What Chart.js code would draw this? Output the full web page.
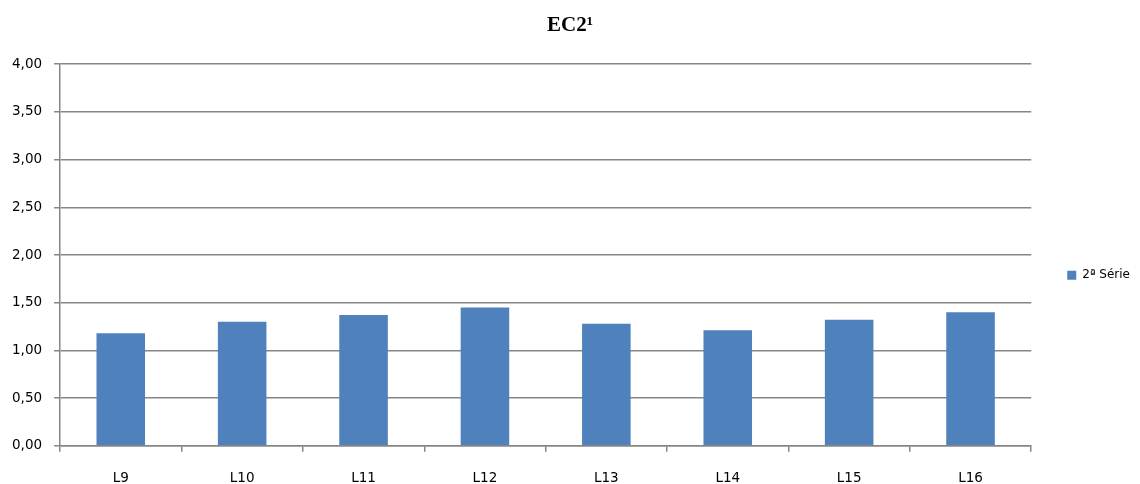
<!DOCTYPE html>
<html>
<head>
<meta charset="utf-8">
<script src="https://cdn.jsdelivr.net/npm/chart.js@4/dist/chart.umd.min.js"></script>
<style>
  html, body { margin: 0; padding: 0; background: #fff; }
  #wrap { width: 1140px; height: 484px; }
</style>
</head>
<body>
<div id="wrap"><canvas id="ec2Chart"></canvas></div>
<script>
// data
var categories = ["L9", "L10", "L11", "L12", "L13", "L14", "L15", "L16"];
var serie2 = [1.18, 1.30, 1.37, 1.45, 1.28, 1.21, 1.32, 1.40];
var serieLabel = "2ª Série";
var chartTitle = "EC2¹";
var yMin = 0, yMax = 4, yStep = 0.5;

var gridGray = "#868686";
var barBlue = "#4F81BD";
var tickFont = { family: "'DejaVu Sans', sans-serif", size: 13.5 };

const ctx = document.getElementById("ec2Chart").getContext("2d");
new Chart(ctx, {
    type: "bar",
    data: {
        labels: categories,
        datasets: [
            {
                label: serieLabel,
                data: serie2,
                backgroundColor: barBlue,
                borderWidth: 0,
                barPercentage: 1,
                categoryPercentage: 0.4
            }
        ]
    },
    options: {
        responsive: true,
        maintainAspectRatio: false,
        animation: false,
        layout: {
            // ticks padding is counted twice by chart.js, pull the x axis back down
            padding: { left: 0, right: 0, top: 0, bottom: -22 }
        },
        plugins: {
            tooltip: { enabled: false },
            title: {
                display: true,
                text: chartTitle,
                color: "#000",
                font: { family: "'Liberation Serif', 'Times New Roman', serif", size: 21, weight: "bold" },
                padding: { top: 13, bottom: 26 }
            },
            legend: {
                position: "right",
                title: { display: true, text: "", font: { size: 12 }, padding: { top: 30, bottom: 0 } },
                labels: {
                    boxWidth: 9,
                    boxHeight: 9,
                    padding: 36,
                    color: "#000",
                    font: { family: "'DejaVu Sans', sans-serif", size: 12 }
                }
            }
        },
        scales: {
            y: {
                min: yMin,
                max: yMax,
                ticks: {
                    stepSize: yStep,
                    padding: 12,
                    color: "#000",
                    font: tickFont,
                    callback: function(v){ return v.toFixed(2).replace(".", ","); }
                },
                grid: { color: gridGray, lineWidth: 1.5, tickLength: 6 },
                border: { color: gridGray, width: 1.5 }
            },
            x: {
                ticks: {
                    padding: 19,
                    color: "#000",
                    font: tickFont
                },
                grid: { offset: true, drawOnChartArea: false, color: gridGray, lineWidth: 1.5, tickLength: 6 },
                border: { color: gridGray, width: 1.5 }
            }
        }
    }
});
</script>
</body>
</html>
